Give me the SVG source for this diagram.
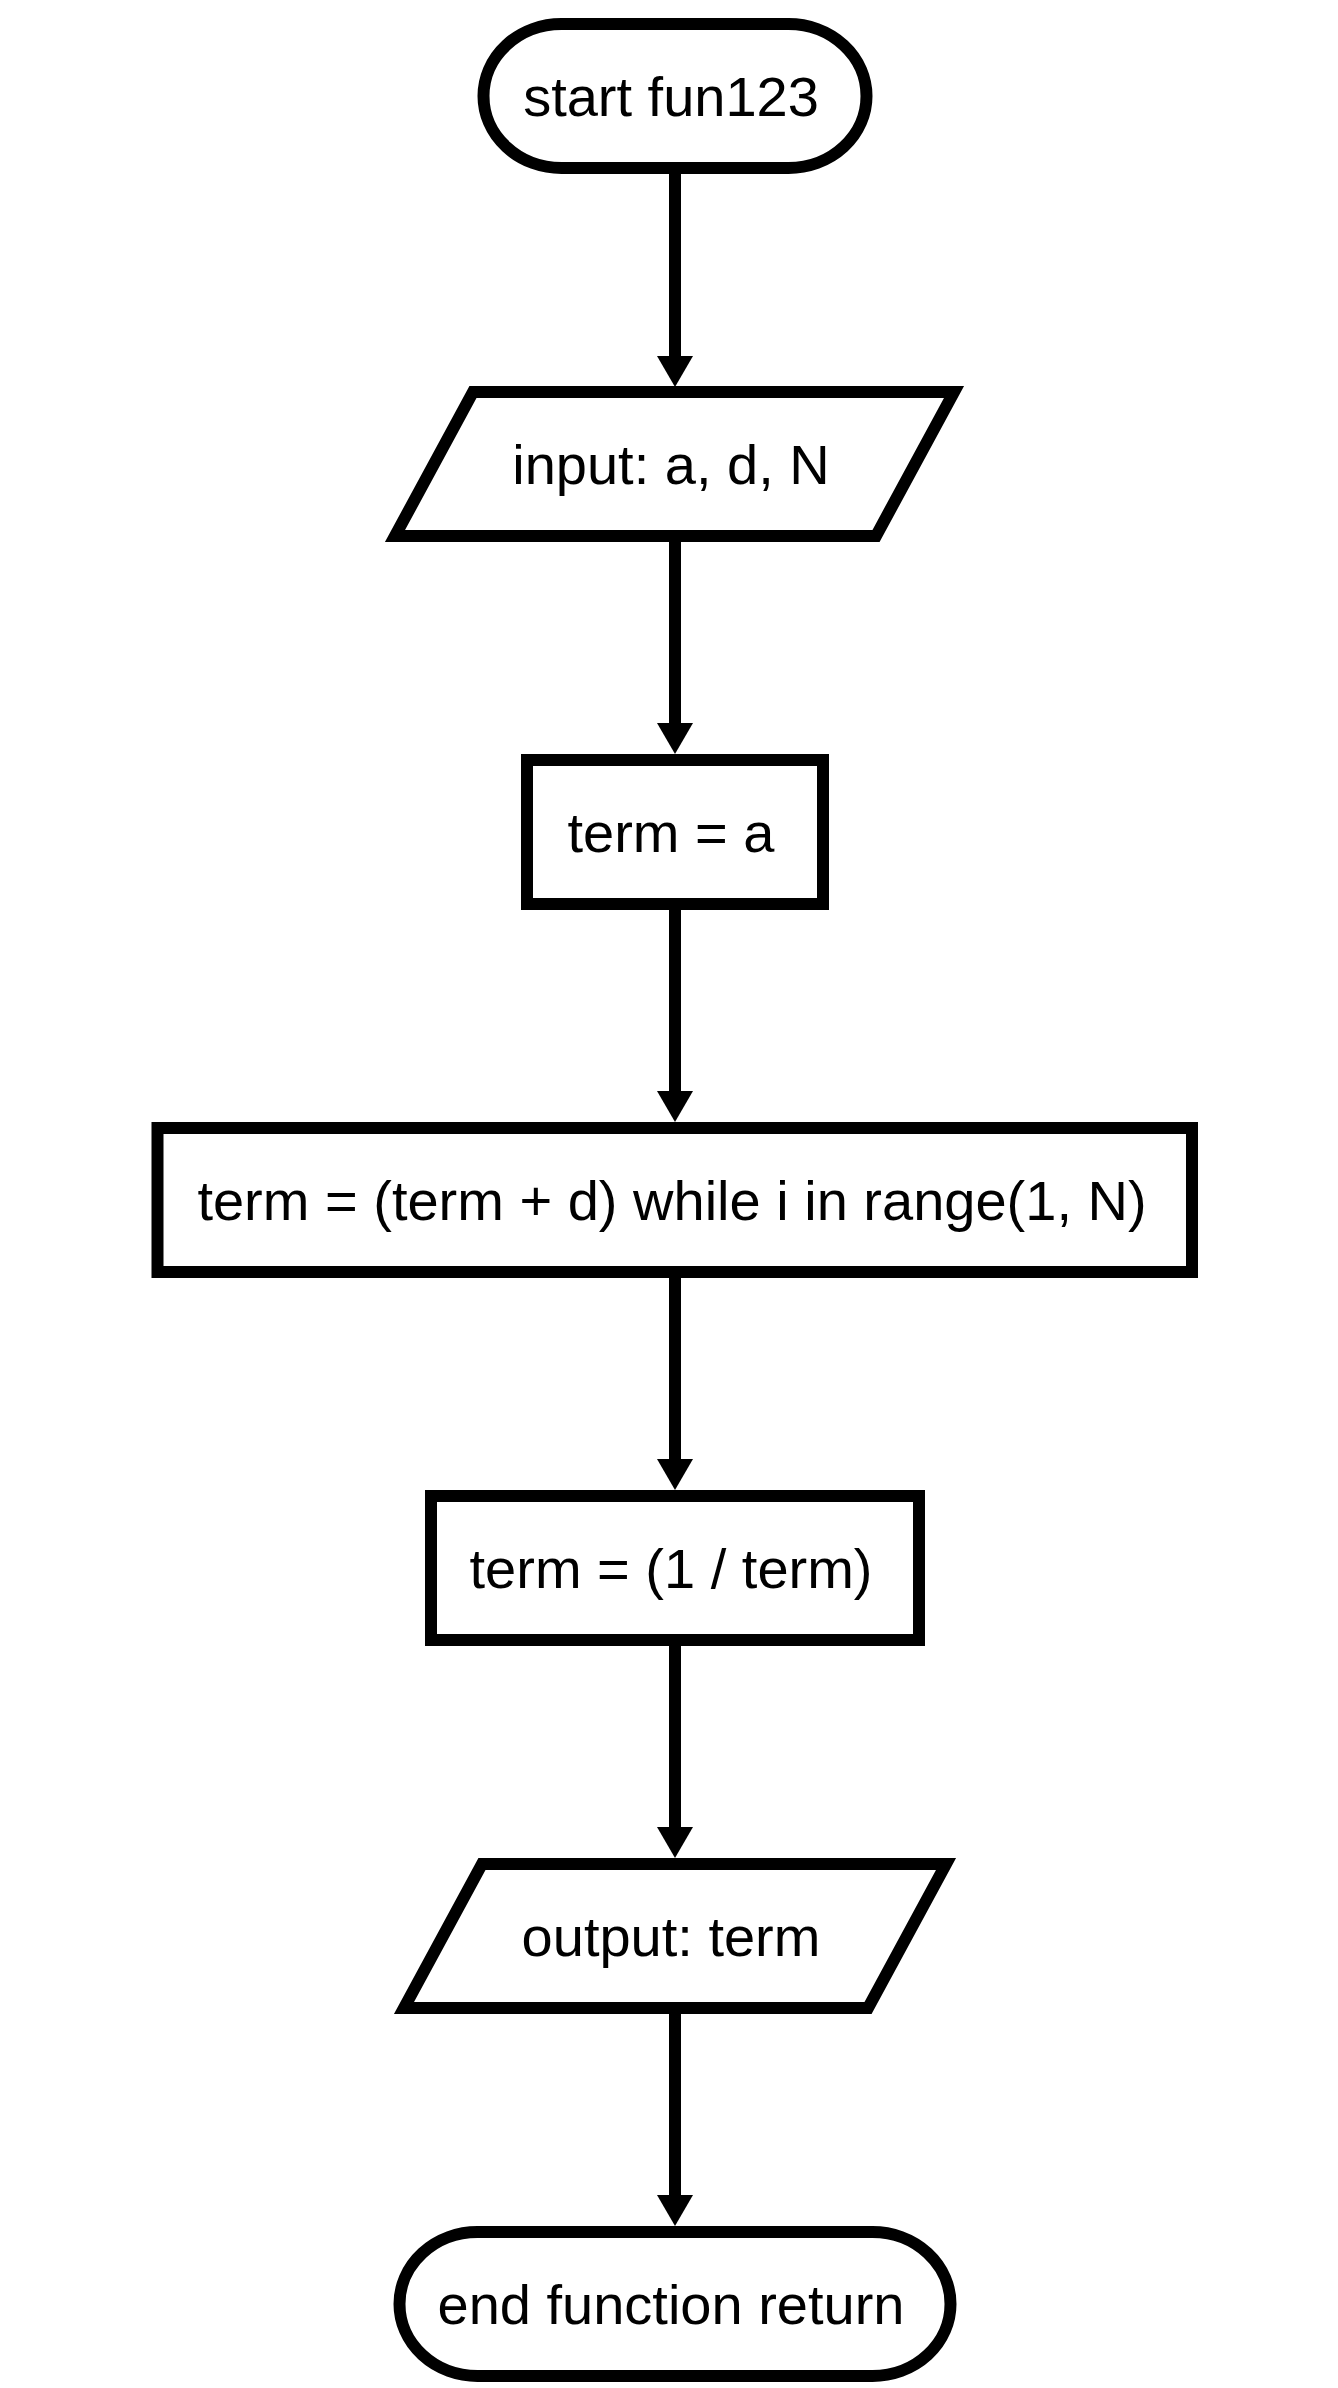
<svg xmlns="http://www.w3.org/2000/svg" width="1338" height="2388" viewBox="0 0 1338 2388">
<style>
.node{fill:#ffffff;stroke:#000000;stroke-width:12;stroke-linejoin:miter}
.lbl{font-family:"Liberation Sans",Arial,sans-serif;font-size:56px;fill:#000000;text-anchor:middle}
.edge{fill:none;stroke:#000000;stroke-width:12}
</style>
<defs>
<marker id="arrow" markerUnits="userSpaceOnUse" markerWidth="31" markerHeight="36" viewBox="0 0 31 36" refX="0" refY="18" orient="auto">
<path d="M0,0 L31,18 L0,36 Z" fill="#000000"/>
</marker>
</defs>
<rect width="1338" height="2388" fill="#ffffff"/>
<g id="connectors">
<line class="edge" x1="675" y1="168" x2="675" y2="356" marker-end="url(#arrow)"/>
<line class="edge" x1="675" y1="536" x2="675" y2="723" marker-end="url(#arrow)"/>
<line class="edge" x1="675" y1="904" x2="675" y2="1091" marker-end="url(#arrow)"/>
<line class="edge" x1="675" y1="1272" x2="675" y2="1459" marker-end="url(#arrow)"/>
<line class="edge" x1="675" y1="1640" x2="675" y2="1827" marker-end="url(#arrow)"/>
<line class="edge" x1="675" y1="2008" x2="675" y2="2195" marker-end="url(#arrow)"/>
</g>
<g id="start">
<rect class="node" x="483.5" y="24" width="383" height="144" rx="78" ry="72"/>
<text class="lbl" x="671" y="116">start fun123</text>
</g>
<g id="input">
<polygon class="node" points="473,392 954,392 876,536 395,536"/>
<text class="lbl" x="671" y="484">input: a, d, N</text>
</g>
<g id="init">
<rect class="node" x="527" y="760" width="296" height="144"/>
<text class="lbl" x="671" y="852">term = a</text>
</g>
<g id="loop">
<rect class="node" x="157.5" y="1128" width="1034.5" height="144"/>
<text class="lbl" x="672" y="1220">term = (term + d) while i in range(1, N)</text>
</g>
<g id="invert">
<rect class="node" x="431" y="1496" width="488" height="144"/>
<text class="lbl" x="671" y="1588">term = (1 / term)</text>
</g>
<g id="output">
<polygon class="node" points="482,1864 946,1864 868,2008 404,2008"/>
<text class="lbl" x="671" y="1956">output: term</text>
</g>
<g id="end">
<rect class="node" x="399.5" y="2232" width="551" height="144" rx="78" ry="72"/>
<text class="lbl" x="671" y="2324">end function return</text>
</g>
</svg>
